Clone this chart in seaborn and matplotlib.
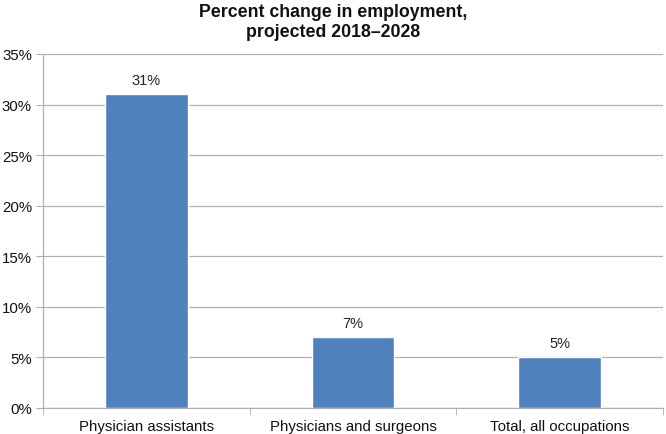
import numpy as np
import pandas as pd
import matplotlib
matplotlib.use("Agg")
import matplotlib.pyplot as plt
import matplotlib.ticker as ticker
import seaborn as sns

categories = ["Physician assistants", "Physicians and surgeons", "Total, all occupations"]
pct_change = [31, 7, 5]
y_ticks = [0, 5, 10, 15, 20, 25, 30, 35]

df = pd.DataFrame({"Occupation": categories, "Change": pct_change})

sns.set_style("white")
plt.rcParams["font.family"] = ["Liberation Sans", "DejaVu Sans"]

fig = plt.figure(figsize=(6.66, 4.35), dpi=100)
ax = fig.add_axes([0.0646, 0.0598, 0.931, 0.8138])

sns.barplot(data=df, x="Occupation", y="Change", color="#4F81BD",
            saturation=1, width=0.4, ax=ax)

for i, v in enumerate(pct_change):
    ax.annotate(f"{v}%", (i, v), xytext=(0, 5), textcoords="offset points",
                ha="center", va="bottom", fontsize=10.5, color="#222222")

ax.set_ylim(0, 35)
ax.set_xlim(-0.5, 2.5)
ax.set_yticks(y_ticks)
ax.yaxis.set_major_formatter(ticker.FuncFormatter(lambda v, p: f"{int(v)}%"))
ax.yaxis.grid(True, color="#b0b0b0", linewidth=0.9)
ax.set_axisbelow(True)
ax.set_xlabel("")
ax.set_ylabel("")

ax.xaxis.set_minor_locator(ticker.FixedLocator([-0.5, 0.5, 1.5, 2.5]))
ax.tick_params(axis="x", which="major", length=0, labelsize=10.8, pad=8, colors="#111111")
ax.tick_params(axis="x", which="minor", length=5, color="#b0b0b0", direction="out", bottom=True)
ax.tick_params(axis="y", which="major", length=5, color="#b0b0b0", labelsize=10.8,
               labelcolor="#111111", left=True, pad=3)

for s in ["top", "right"]:
    ax.spines[s].set_visible(False)
for s in ["left", "bottom"]:
    ax.spines[s].set_color("#b0b0b0")
    ax.spines[s].set_linewidth(0.9)

fig.suptitle("Percent change in employment,\nprojected 2018\u20132028", x=0.5, y=0.99,
             fontsize=12.8, fontweight="bold", color="#111111", linespacing=1.22)

fig.savefig("out.png", dpi=100)
